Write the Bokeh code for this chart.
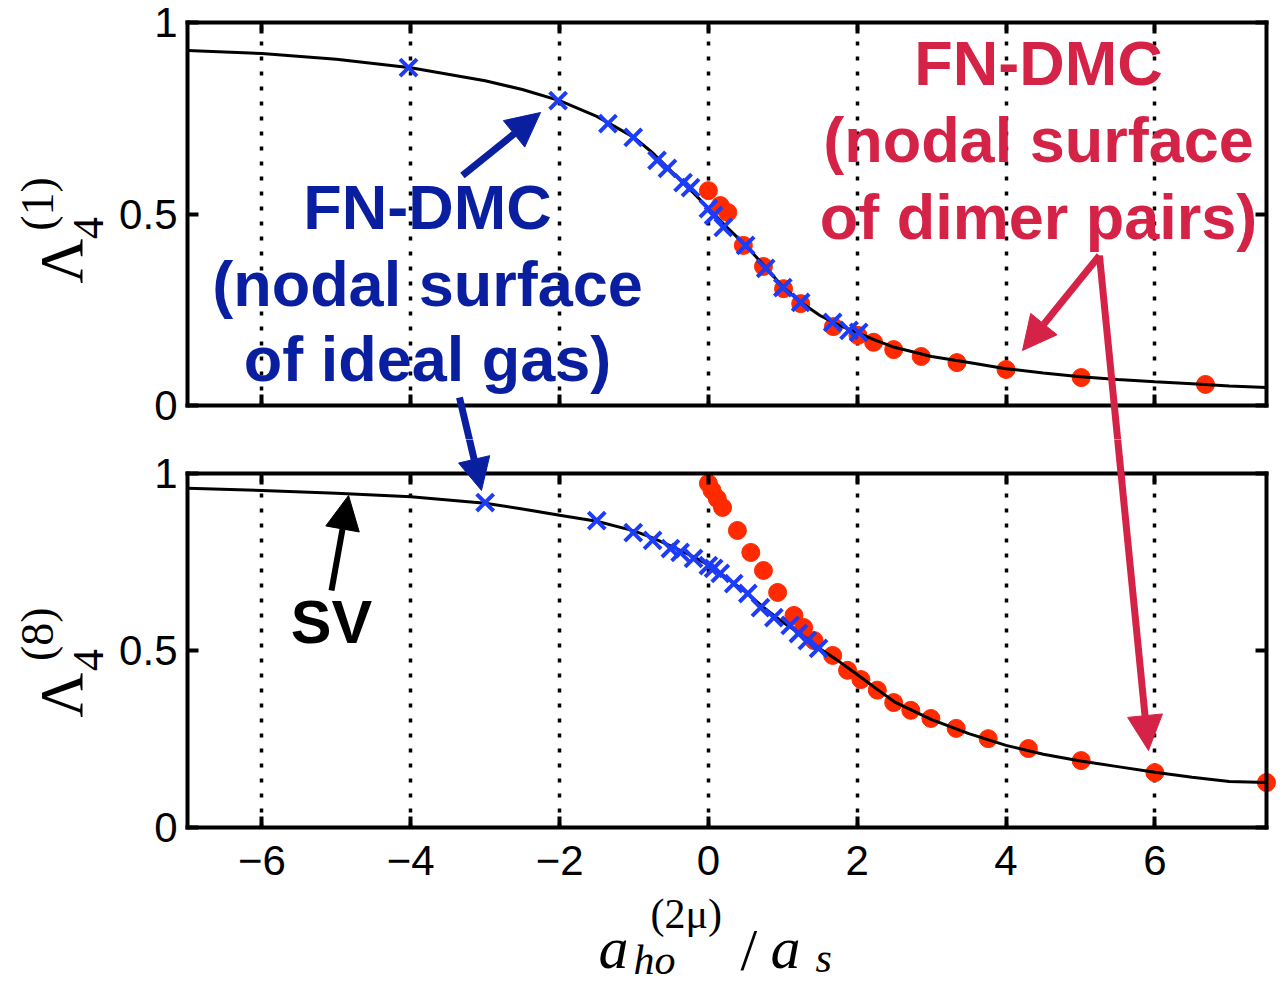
from bokeh.plotting import figure
from bokeh.models import (Range1d, FixedTicker, LinearAxis, Arrow, NormalHead, Label,
                          Grid, BoxAnnotation)
from bokeh.layouts import column
from bokeh.embed import file_html
from bokeh.resources import INLINE

# ---------------- data ----------------
x_ticks = [-6, -4, -2, 0, 2, 4, 6]
x_tick_labels = {-6: "\u22126", -4: "\u22124", -2: "\u22122", 0: "0", 2: "2", 4: "4", 6: "6"}
y_ticks = [0, 0.5, 1]
y_tick_labels = {0: "0", 0.5: "0.5", 1: "1"}

# SV curve, Lambda_4^(1)
sv1_x = [-7.0, -6.0, -5.0, -4.0, -3.0, -2.5, -2.0, -1.5, -1.0, -0.75, -0.5, -0.25, 0.0,
         0.25, 0.5, 0.75, 1.0, 1.25, 1.5, 1.75, 2.0, 2.25, 2.5, 3.0, 3.5, 4.0, 4.5,
         5.0, 5.5, 6.0, 6.5, 7.0, 7.5]
sv1_y = [0.927, 0.919, 0.904, 0.882, 0.848, 0.825, 0.796, 0.755, 0.700, 0.660, 0.612, 0.565, 0.515,
         0.465, 0.418, 0.365, 0.310, 0.268, 0.235, 0.210, 0.190, 0.170, 0.152, 0.128, 0.112, 0.096, 0.085,
         0.075, 0.068, 0.062, 0.057, 0.051, 0.047]

# FN-DMC, ideal-gas nodal surface, Lambda_4^(1)
gas1_x = [-4.03, -2.02, -1.35, -1.01, -0.69, -0.55, -0.34, -0.24, 0.0, 0.07, 0.20,
          0.50, 0.77, 1.00, 1.24, 1.67, 1.89, 2.02]
gas1_y = [0.882, 0.796, 0.736, 0.700, 0.640, 0.619, 0.582, 0.569, 0.514, 0.496, 0.465,
          0.418, 0.358, 0.308, 0.269, 0.217, 0.196, 0.191]

# FN-DMC, dimer-pair nodal surface, Lambda_4^(1)
dimer1_x = [0.0, 0.16, 0.26, 0.47, 0.74, 1.01, 1.24, 1.68, 2.01, 2.22, 2.49, 2.86,
            3.34, 4.00, 5.01, 6.68]
dimer1_y = [0.561, 0.522, 0.504, 0.418, 0.363, 0.305, 0.266, 0.206, 0.183, 0.165, 0.146, 0.128,
            0.112, 0.094, 0.073, 0.055]

# SV curve, Lambda_4^(8)
sv8_x = [-7.0, -6.0, -5.0, -4.0, -3.0, -2.5, -2.0, -1.5, -1.0, -0.75, -0.5, -0.25, 0.0,
         0.25, 0.5, 0.75, 1.0, 1.25, 1.5, 1.75, 2.0, 2.25, 2.5, 3.0, 3.5, 4.0, 4.5,
         5.0, 5.5, 6.0, 6.5, 7.0, 7.5]
sv8_y = [0.958, 0.952, 0.944, 0.934, 0.916, 0.900, 0.882, 0.865, 0.838, 0.818, 0.795, 0.770, 0.742,
         0.705, 0.665, 0.620, 0.580, 0.545, 0.505, 0.470, 0.432, 0.393, 0.355, 0.305, 0.265, 0.232, 0.207,
         0.188, 0.172, 0.156, 0.142, 0.130, 0.127]

# FN-DMC, ideal-gas nodal surface, Lambda_4^(8)
gas8_x = [-3.0, -1.5, -1.01, -0.75, -0.51, -0.38, -0.2, 0.0, 0.07, 0.16, 0.34, 0.53,
          0.70, 0.88, 1.10, 1.21, 1.33, 1.48]
gas8_y = [0.918, 0.867, 0.833, 0.811, 0.788, 0.777, 0.760, 0.740, 0.732, 0.718, 0.689, 0.661,
          0.621, 0.593, 0.571, 0.548, 0.528, 0.506]

# FN-DMC, dimer-pair nodal surface, Lambda_4^(8)
dimer8_x = [0.0, 0.05, 0.12, 0.19, 0.39, 0.57, 0.74, 0.93, 1.15, 1.28, 1.42, 1.67,
            1.87, 2.05, 2.27, 2.49, 2.72, 2.99, 3.33, 3.76, 4.30, 5.01, 6.00, 7.50]
dimer8_y = [0.972, 0.952, 0.929, 0.904, 0.839, 0.777, 0.726, 0.664, 0.599, 0.565, 0.528, 0.486,
            0.444, 0.418, 0.388, 0.353, 0.331, 0.308, 0.280, 0.251, 0.223, 0.189, 0.155, 0.127]

# ---------------- styling ----------------
BLUE_TEXT = "#0a1fa0"
RED_TEXT = "#d42346"
DOT_RED = "#ff2a00"
CROSS_BLUE = "#1c3cf8"
SANS = "Liberation Sans"
SERIF = "Liberation Serif"

X0, X1 = -7.0, 7.5          # data extent of each box
WIDTH = 1283
BOX_LEFT, BOX_RIGHT = 187, 1266   # box edges in pixels


def style_axis(ax, ticks, labels=None, standoff=10):
    ax.ticker = FixedTicker(ticks=ticks)
    ax.axis_line_width = 4
    ax.axis_line_color = "black"
    ax.axis_line_cap = "square"
    ax.major_tick_in = 11
    ax.major_tick_out = 0
    ax.major_tick_line_width = 4
    ax.minor_tick_line_color = None
    if labels is None:
        ax.major_label_text_color = None
    else:
        ax.major_label_overrides = labels
        ax.major_label_text_font = SANS
        ax.major_label_text_font_size = "42px"
        ax.major_label_text_color = "black"
        ax.major_label_standoff = standoff


def make_panel(height, box_top, box_bottom, show_x_labels):
    # the frame fills the whole canvas; the boxed axes sit at fixed data locations,
    # so texts and arrows may run into the margins and across the gap
    sx = (X1 - X0) / (BOX_RIGHT - BOX_LEFT)
    sy = 1.0 / (box_bottom - box_top)
    p = figure(width=WIDTH, height=height,
               x_range=Range1d(X0 - BOX_LEFT * sx, X1 + (WIDTH - BOX_RIGHT) * sx),
               y_range=Range1d(-(height - box_bottom) * sy, 1 + box_top * sy),
               x_axis_location=None, y_axis_location=None,
               output_backend="svg", toolbar_location=None,
               min_border=0, min_border_left=0, min_border_right=0,
               min_border_top=0, min_border_bottom=0)
    p.background_fill_color = "white"
    p.border_fill_color = "white"
    p.outline_line_color = None

    left = LinearAxis(fixed_location=X0, bounds=(0, 1))
    right = LinearAxis(fixed_location=X1, bounds=(0, 1))
    above = LinearAxis(fixed_location=1, bounds=(X0, X1))
    below = LinearAxis(fixed_location=0, bounds=(X0, X1))
    style_axis(left, y_ticks, y_tick_labels, standoff=10)
    style_axis(right, y_ticks)
    style_axis(above, x_ticks)
    style_axis(below, x_ticks, x_tick_labels if show_x_labels else None, standoff=18)
    p.add_layout(left, "left")
    p.add_layout(right, "right")
    p.add_layout(above, "above")
    p.add_layout(below, "below")

    p.ygrid.visible = False
    g = p.xgrid[0]
    g.ticker = FixedTicker(ticks=x_ticks)
    g.grid_line_color = "black"
    g.grid_line_width = 3.5
    g.grid_line_dash = "4 11"
    if "cross_bounds" in Grid.properties():
        g.cross_bounds = (0, 1)
    else:
        for b, t in ((None, 0), (1, None)):
            p.add_layout(BoxAnnotation(bottom=b, top=t, fill_color="white", fill_alpha=1,
                                       line_color=None, level="underlay"))
    return p


def draw_series(p, sv_x, sv_y, gas_x, gas_y, dim_x, dim_y):
    p.scatter(dim_x, dim_y, marker="circle", size=18, fill_color=DOT_RED,
              line_color=DOT_RED, line_width=1)
    p.line(sv_x, sv_y, line_color="black", line_width=3)
    p.scatter(gas_x, gas_y, marker="x", size=24, line_color=CROSS_BLUE, line_width=4)


def arrow(p, xs, ys, xe, ye, color, size=34, width=7):
    p.add_layout(Arrow(x_start=xs, y_start=ys, x_end=xe, y_end=ye,
                       line_color=color, line_width=width,
                       end=NormalHead(size=size, fill_color=color, line_color=color, line_width=1)))


def text(p, x, y, s, color="black", size="63px", font=SANS, style="bold",
         align="center", angle=0.0):
    p.add_layout(Label(x=x, y=y, text=s, text_color=color, text_font=font,
                       text_font_size=size, text_font_style=style,
                       text_align=align, text_baseline="alphabetic", angle=angle))


HALF_PI = 1.5707963

# ---------------- upper panel: Lambda_4^(1) ----------------
top = make_panel(439, 22, 405, False)
draw_series(top, sv1_x, sv1_y, gas1_x, gas1_y, dimer1_x, dimer1_y)

text(top, -3.775, 0.519, "FN-DMC", BLUE_TEXT)
text(top, -3.775, 0.318, "(nodal surface", BLUE_TEXT)
text(top, -3.775, 0.122, "of ideal gas)", BLUE_TEXT)
text(top, 4.436, 0.893, "FN-DMC", RED_TEXT)
text(top, 4.436, 0.692, "(nodal surface", RED_TEXT)
text(top, 4.436, 0.493, "of dimer pairs)", RED_TEXT)

arrow(top, -3.305, 0.6005, -2.256, 0.765, BLUE_TEXT)
arrow(top, -3.345, 0.0209, -3.049, -0.222, BLUE_TEXT, size=32)
arrow(top, 5.255, 0.3916, 4.221, 0.1436, RED_TEXT)
arrow(top, 5.255, 0.3916, 5.914, -0.9008, RED_TEXT, size=35)

# rotated y label  Lambda_4^(1)
text(top, -8.70, 0.3185, "\u039b", size="62px", font=SERIF, style="normal", align="left", angle=HALF_PI)
text(top, -8.329, 0.435, "4", size="44px", font=SERIF, style="normal", align="left", angle=HALF_PI)
text(top, -9.010, 0.456, "(1)", size="46px", font=SERIF, style="normal", align="left", angle=HALF_PI)

# ---------------- lower panel: Lambda_4^(8) ----------------
bot = make_panel(546, 34, 388, True)
draw_series(bot, sv8_x, sv8_y, gas8_x, gas8_y, dimer8_x, dimer8_y)

text(bot, -5.065, 0.580, "SV", "black", size="61px")
arrow(bot, -5.065, 0.6695, -4.836, 0.9379, "black", width=6)
arrow(bot, -3.345, 1.2147, -3.049, 0.952, BLUE_TEXT, size=32)
arrow(bot, 5.255, 1.6158, 5.914, 0.2175, RED_TEXT, size=35)

text(bot, -8.70, 0.3107, "\u039b", size="62px", font=SERIF, style="normal", align="left", angle=HALF_PI)
text(bot, -8.329, 0.442, "4", size="44px", font=SERIF, style="normal", align="left", angle=HALF_PI)
text(bot, -9.010, 0.470, "(8)", size="46px", font=SERIF, style="normal", align="left", angle=HALF_PI)

# x label  a_ho^(2mu) / a_s
text(bot, -1.477, -0.341, "a", size="60px", font=SERIF, style="italic", align="left")
text(bot, -0.778, -0.245, "(2\u03bc)", size="42px", font=SERIF, style="normal", align="left")
text(bot, -1.007, -0.375, "ho", size="42px", font=SERIF, style="italic", align="left")
text(bot, 0.431, -0.347, "/", size="60px", font=SERIF, style="normal", align="left")
text(bot, 0.834, -0.341, "a", size="60px", font=SERIF, style="italic", align="left")
text(bot, 1.439, -0.370, "s", size="42px", font=SERIF, style="italic", align="left")

layout = column(top, bot, spacing=0)
open("out.html", "w").write(file_html(layout, INLINE))
